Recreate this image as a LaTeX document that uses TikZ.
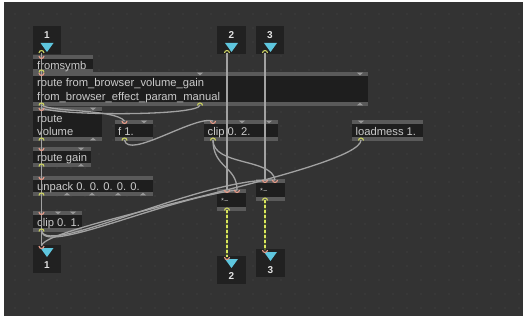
\documentclass[tikz,border=0pt]{standalone}
\usepackage{fontspec}
\setmainfont{Liberation Sans}
\definecolor{bgc}{HTML}{333333}
\definecolor{dotc}{HTML}{4A4A4A}
\definecolor{bodyc}{HTML}{1E1E1E}
\definecolor{barc}{HTML}{5A5A5A}
\definecolor{txtc}{HTML}{CACACA}
\definecolor{iobodyc}{HTML}{212121}
\definecolor{numc}{HTML}{E2E2E2}
\definecolor{tric}{HTML}{5EC6DE}
\definecolor{cordc}{HTML}{A2A2A2}
\definecolor{inc}{HTML}{E59A88}
\definecolor{outc}{HTML}{C9D060}
\definecolor{gportc}{HTML}{9A9A9A}
\definecolor{sigc}{HTML}{D9E65C}
\definecolor{sigdark}{HTML}{55602A}
\tikzset{
 objbox/.style={fill=bodyc, inner sep=0pt, outer sep=0pt, draw=none},
 otext/.style={text=txtc, font=\fontsize{11.2}{13}\selectfont, inner sep=0pt, anchor=base west},
 smtext/.style={text=txtc, font=\fontsize{7.5}{8}\selectfont, inner sep=0pt, anchor=base west},
 iobox/.style={fill=iobodyc, inner sep=0pt, outer sep=0pt, draw=none},
 numtext/.style={text=numc, font=\fontsize{10}{11}\selectfont\bfseries, inner sep=0pt, anchor=base},
 tri/.style={fill=tric},
 cord/.style={draw=cordc, line width=1.3pt},
 inp/.style={draw=inc, line width=1.1pt},
 outp/.style={draw=outc, line width=1.1pt},
 gport/.style={fill=gportc},
 sigbase/.style={draw=sigdark, line width=2.4pt},
 sigdash/.style={draw=sigc, line width=1.5pt, dash pattern=on 3pt off 2pt},
}
% object box: name, x1, y1, x2, y2
\newcommand\mobj[5]{%
  \node[objbox, minimum width={(#4-#2)*1pt}, minimum height={(#5-#3)*1pt}] (#1) at ({(#2+#4)/2},{(#3+#5)/2}) {};
  \fill[barc] (#1.north west) rectangle ([yshift=-4pt]#1.north east);
  \fill[barc] (#1.south west) rectangle ([yshift=4pt]#1.south east);
}
\newcommand\iobx[5]{%
  \node[iobox, minimum width={(#4-#2)*1pt}, minimum height={(#5-#3)*1pt}] (#1) at ({(#2+#4)/2},{(#3+#5)/2}) {};
}
\newcommand\pin[2]{\draw[inp] (#1-2.5,#2) arc[start angle=180, end angle=360, radius=2.5pt];}
\newcommand\pout[2]{\draw[outp] (#1-2.5,#2) arc[start angle=180, end angle=0, radius=2.5pt];}
\newcommand\gtop[2]{\fill[gport] (#1-3,#2+0.6) -- (#1+3,#2+0.6) -- (#1,#2+3.4) -- cycle;}
\newcommand\gbot[2]{\fill[gport] (#1-3,#2-0.6) -- (#1+3,#2-0.6) -- (#1,#2-3.4) -- cycle;}
\begin{document}
\begin{tikzpicture}[x=1pt,y=-1pt]
\useasboundingbox (0,0) rectangle (525,321);
\fill[white] (0,0) rectangle (525,321);
\fill[bgc] (4,2) rectangle (523,316);
\foreach \xx in {15,29,...,519} {\foreach \yy in {14,28,...,308} {\fill[dotc] (\xx,\yy) circle (0.6pt);}}

% ---------- inlets ----------
\iobx{in1}{33}{26}{61}{54}
\node[numtext] (in1n) at (47,38.5) {1};
\fill[tri] (40.5,43) -- (53.5,43) -- (47,52) -- cycle;
\iobx{in2}{217}{26}{246}{54}
\node[numtext] (in2n) at (231.5,38.5) {2};
\fill[tri] (225,43) -- (238,43) -- (231.5,52) -- cycle;
\iobx{in3}{256}{26}{284}{54}
\node[numtext] (in3n) at (270,38.5) {3};
\fill[tri] (264,43) -- (277,43) -- (270.5,52) -- cycle;

% ---------- outlets ----------
\iobx{out1}{33}{245}{61}{273}
\fill[tri] (40.5,248) -- (53.5,248) -- (47,257) -- cycle;
\node[numtext] (out1n) at (47,268.5) {1};
\iobx{out2}{217}{256}{246}{284}
\fill[tri] (225,259) -- (238,259) -- (231.5,268) -- cycle;
\node[numtext] (out2n) at (231.5,279.5) {2};
\iobx{out3}{256}{249}{285}{277}
\fill[tri] (264,252) -- (277,252) -- (270.5,261) -- cycle;
\node[numtext] (out3n) at (270.5,273) {3};

% ---------- objects ----------
\mobj{fromsymb}{33}{55}{93}{73}
\node[otext] (fromsymbt) at (37,70) {fromsymb};
\mobj{route}{33}{72}{368}{106}
\node[otext] (routet1) at (37,87) {route from\_browser\_volume\_gain};
\node[otext] (routet2) at (37,100) {from\_browser\_effect\_param\_manual};
\mobj{routevol}{33}{107}{102}{141}
\node[otext] (routevolt1) at (37,122) {route};
\node[otext] (routevolt2) at (37,135) {volume};
\mobj{fone}{115}{120}{153}{141}
\node[otext] (fonet) at (118,135) {f 1.};
\mobj{cliptwo}{204}{120}{278}{141}
\node[otext] (cliptwot) at (207.5,135) {clip 0. 2.};
\mobj{loadmess}{352}{120}{423}{141}
\node[otext] (loadmesst) at (355.5,135) {loadmess 1.};
\mobj{routegain}{33}{147}{91}{167}
\node[otext] (routegaint) at (37,161.5) {route gain};
\mobj{unpack}{33}{176}{153}{196}
\node[otext] (unpackt) at (37,190.5) {unpack 0. 0. 0. 0. 0.};
\mobj{clipone}{33}{211}{82}{232}
\node[otext] (clipponet) at (37,226) {clip 0. 1.};
\mobj{mulL}{217}{189}{246}{211}
\node[smtext] (mulLt) at (221,203) {*\char126};
\mobj{mulR}{256}{179}{285}{201}
\node[smtext] (mulRt) at (260,193.5) {*\char126};

% ---------- port coordinates ----------
\coordinate (in1o) at (41.5,53);
\coordinate (in2o) at (227,53);
\coordinate (in3o) at (265,53);
\coordinate (out1i) at (41.5,246);
\coordinate (out2i) at (227,257);
\coordinate (out3i) at (265,250);
\coordinate (routeo0) at (41.5,105);
\coordinate (routeo1) at (200,105);
\coordinate (routevoli) at (41.5,108);
\coordinate (fonei) at (124.5,121);
\coordinate (foneo) at (124.5,140);
\coordinate (cliptwoi) at (213,121);
\coordinate (cliptwoo) at (213,140);
\coordinate (loadmesso) at (361,140);
\coordinate (clipo) at (41.5,231);
\coordinate (mulLi0) at (227,190);
\coordinate (mulLi1) at (237,190);
\coordinate (mulLo) at (227,210);
\coordinate (mulRi0) at (265,180);
\coordinate (mulRi1) at (275,180);
\coordinate (mulRo) at (265,200);

% ---------- cords ----------
\draw[cord] (in1o) -- (out1i);
\draw[cord] (in2o) -- (mulLi0);
\draw[cord] (in3o) -- (mulRi0);
\draw[cord] (routeo1) .. controls (200,116) and (60,116) .. (routevoli);
\draw[cord] (routeo0) .. controls (50,112) and (115,109) .. (fonei);
\draw[cord] (foneo) .. controls (128,160) and (195,115) .. (cliptwoi);
\draw[cord] (cliptwoo) .. controls (213,168) and (237,166) .. (mulLi1);
\draw[cord] (cliptwoo) .. controls (213,166) and (272,158) .. (mulRi1);
\draw[cord] (clipo) .. controls (45,255) and (160,200) .. (mulLi1);
\draw[cord] (clipo) .. controls (48,256) and (200,178) .. (mulRi1);
\draw[cord] (loadmesso) .. controls (361,170) and (41.5,225) .. (out1i);
\draw[sigbase] (mulLo) -- (out2i);
\draw[sigdash] (mulLo) -- (out2i);
\draw[sigbase] (mulRo) -- (out3i);
\draw[sigdash] (mulRo) -- (out3i);

% ---------- ports ----------
\pout{41.5}{53}\pout{227}{53}\pout{265}{53}
\pin{41.5}{246}\pin{227}{257}\pin{265}{250}
\pin{41.5}{56}\pout{41.5}{72.5}
\pin{41.5}{73}\gtop{200}{72}\gtop{360}{72}
\pout{41.5}{105.5}\pout{200}{105.5}\gbot{360}{106}
\pin{41.5}{108}\gtop{93}{107}\pout{41.5}{140.5}\gbot{93}{141}
\pin{124.5}{121}\gtop{144}{120}\pout{124.5}{140.5}
\pin{213}{121}\gtop{242}{120}\gtop{269}{120}\pout{213}{140.5}
\gtop{361}{120}\pout{361}{140.5}
\pin{41.5}{148}\gtop{81}{147}\pout{41.5}{166.5}\gbot{81}{167}
\pin{41.5}{177}\pout{41.5}{195.5}\gbot{67}{196}\gbot{92}{196}\gbot{118}{196}\gbot{143}{196}
\pin{41.5}{212}\gtop{58}{211}\gtop{73}{211}\pout{41.5}{231.5}
\pin{227}{190}\pin{237}{190}\pout{227}{210.5}
\pin{265}{180}\pin{275}{180}\pout{265}{200.5}
\end{tikzpicture}
\end{document}
